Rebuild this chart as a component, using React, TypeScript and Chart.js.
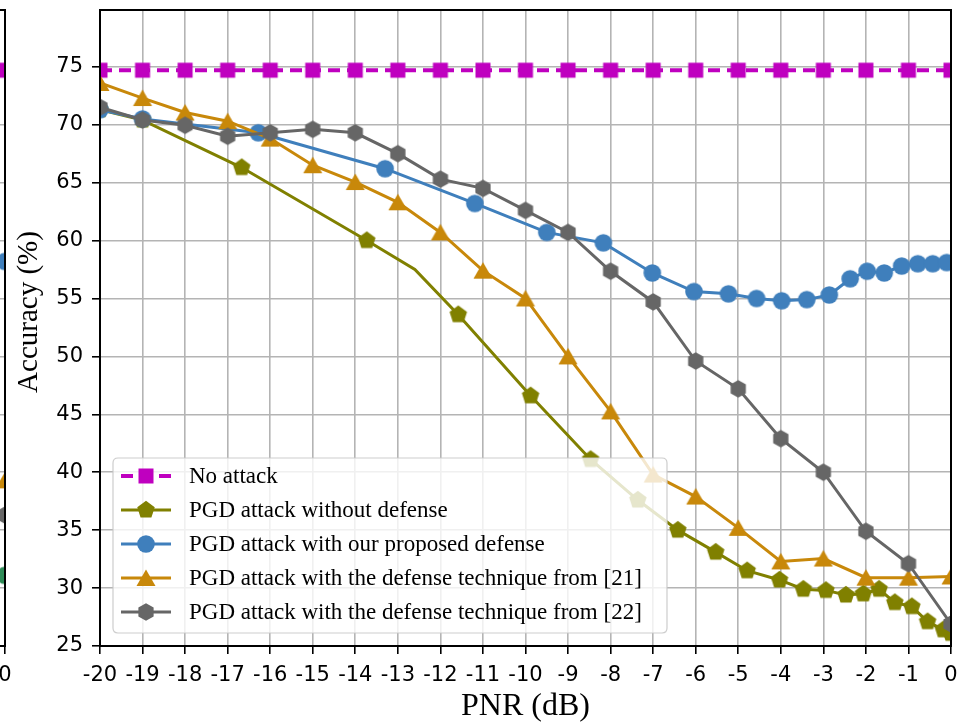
import React, { useEffect, useRef } from 'react';
import { Chart, registerables } from 'chart.js';

Chart.register(...registerables);

// ---------- data ----------
const pnrSteps = [-20, -19, -18, -17, -16, -15, -14, -13, -12, -11, -10, -9, -8, -7, -6, -5, -4, -3, -2, -1, 0];

const noAttackAcc = [74.7, 74.7, 74.7, 74.7, 74.7, 74.7, 74.7, 74.7, 74.7, 74.7, 74.7, 74.7, 74.7, 74.7, 74.7, 74.7, 74.7, 74.7, 74.7, 74.7, 74.7];

const noDefensePnr = [-20, -19, -16.67, -13.73, -12.6, -11.58, -9.88, -8.47, -7.36, -6.42, -5.53, -4.79, -4.03, -3.47, -2.94, -2.47, -2.06, -1.69, -1.32, -0.92, -0.55, -0.18, 0];
const noDefenseAcc = [71.3, 70.4, 66.3, 60.0, 57.5, 53.6, 46.6, 41.1, 37.6, 35.0, 33.1, 31.5, 30.7, 29.9, 29.8, 29.4, 29.5, 29.9, 28.75, 28.4, 27.1, 26.4, 26.1];
const noDefenseShowMarker = [1, 1, 1, 1, 0, 1, 1, 1, 1, 1, 1, 1, 1, 1, 1, 1, 1, 1, 1, 1, 1, 1, 1];

const proposedPnr = [-20, -19, -16.28, -13.3, -11.19, -9.5, -8.17, -7.02, -6.04, -5.23, -4.57, -3.98, -3.39, -2.86, -2.37, -1.97, -1.57, -1.16, -0.78, -0.43, -0.1];
const proposedAcc = [71.3, 70.5, 69.3, 66.2, 63.2, 60.7, 59.8, 57.2, 55.6, 55.4, 55.0, 54.8, 54.9, 55.3, 56.7, 57.35, 57.2, 57.8, 58.0, 58.0, 58.1];

const ref21Acc = [73.6, 72.3, 71.05, 70.3, 68.8, 66.5, 65.05, 63.3, 60.7, 57.4, 55.0, 50.0, 45.25, 39.8, 37.9, 35.2, 32.3, 32.55, 30.9, 30.9, 31.0];

const ref22Acc = [71.5, 70.4, 69.95, 69.0, 69.3, 69.6, 69.3, 67.5, 65.3, 64.5, 62.6, 60.7, 57.35, 54.7, 49.6, 47.2, 42.9, 40.0, 34.9, 32.1, 26.9];

// neighbouring subplot (only its right edge is visible)
const leftPanelPnr = [0];
const leftNoAttack = [74.7];
const leftProposed = [58.2];
const leftRef21 = [39.3];
const leftRef22 = [36.3];
const leftOther = [31.1];

const seriesLabels = [
  'No attack',
  'PGD attack without defense',
  'PGD attack with our proposed defense',
  'PGD attack with the defense technique from [21]',
  'PGD attack with the defense technique from [22]',
];

const yTickMin = 25;
const yTickMax = 79.9;

// ---------- styles ----------
const C_MAGENTA = '#bf00bf';
const C_OLIVE = '#808000';
const C_BLUE = '#3f7fbc';
const C_ORANGE = '#c8880a';
const C_GRAY = '#666666';
const C_GREEN = '#2e8b57';

function makeMarker(kind: string, color: string): HTMLCanvasElement {
  const s = 24;
  const c = document.createElement('canvas');
  c.width = s;
  c.height = s;
  const ctx = c.getContext('2d')!;
  const cx = s / 2;
  const cy = s / 2;
  ctx.fillStyle = color;
  ctx.beginPath();
  if (kind === 'square') {
    ctx.rect(cx - 7.5, cy - 7.5, 15, 15);
  } else if (kind === 'circle') {
    ctx.arc(cx, cy, 8.8, 0, Math.PI * 2);
  } else if (kind === 'triangle') {
    ctx.moveTo(cx, cy - 8.5);
    ctx.lineTo(cx + 9.5, cy + 8);
    ctx.lineTo(cx - 9.5, cy + 8);
    ctx.closePath();
  } else {
    const n = kind === 'pentagon' ? 5 : 6;
    const r = kind === 'pentagon' ? 9.2 : 8.8;
    for (let i = 0; i < n; i++) {
      const a = -Math.PI / 2 + (i * 2 * Math.PI) / n;
      const px = cx + r * Math.cos(a);
      const py = cy + r * Math.sin(a);
      if (i === 0) ctx.moveTo(px, py);
      else ctx.lineTo(px, py);
    }
    ctx.closePath();
  }
  ctx.fill();
  return c;
}

function pts(xs: number[], ys: number[]) {
  return xs.map((x, i) => ({ x, y: ys[i] }));
}

function decorPlugin(showLegend: boolean) {
  return {
    id: 'decor',
    afterDatasetsDraw(chart: any) {
      if (!showLegend) return;
      const ctx = chart.ctx as CanvasRenderingContext2D;
      ctx.save();
      const bx = 113, by = 458, bw = 554, bh = 175, r = 5;
      ctx.beginPath();
      ctx.moveTo(bx + r, by);
      ctx.lineTo(bx + bw - r, by);
      ctx.quadraticCurveTo(bx + bw, by, bx + bw, by + r);
      ctx.lineTo(bx + bw, by + bh - r);
      ctx.quadraticCurveTo(bx + bw, by + bh, bx + bw - r, by + bh);
      ctx.lineTo(bx + r, by + bh);
      ctx.quadraticCurveTo(bx, by + bh, bx, by + bh - r);
      ctx.lineTo(bx, by + r);
      ctx.quadraticCurveTo(bx, by, bx + r, by);
      ctx.closePath();
      ctx.fillStyle = 'rgba(255,255,255,0.8)';
      ctx.fill();
      ctx.strokeStyle = 'rgba(200,200,200,0.9)';
      ctx.lineWidth = 1.2;
      ctx.stroke();
      chart.data.datasets.forEach((ds: any, i: number) => {
        const yc = 476 + i * 34;
        ctx.beginPath();
        ctx.setLineDash(ds.borderDash || []);
        ctx.lineDashOffset = 0;
        ctx.lineWidth = ds.borderWidth;
        ctx.strokeStyle = ds.borderColor;
        ctx.moveTo(121, yc);
        ctx.lineTo(171, yc);
        ctx.stroke();
        ctx.setLineDash([]);
        const img = ds.pointStyle as HTMLCanvasElement;
        ctx.drawImage(img, 146 - img.width / 2, yc - img.height / 2);
        ctx.fillStyle = '#000';
        ctx.font = '23px "Liberation Serif"';
        ctx.textBaseline = 'middle';
        ctx.textAlign = 'left';
        ctx.fillText(ds.label, 189, yc + 1);
      });
      ctx.restore();
    },
    afterDraw(chart: any) {
      const ctx = chart.ctx as CanvasRenderingContext2D;
      const a = chart.chartArea;
      ctx.save();
      ctx.strokeStyle = '#000';
      ctx.lineWidth = 2;
      ctx.strokeRect(a.left, a.top, a.right - a.left, a.bottom - a.top);
      ctx.fillStyle = '#000';
      ctx.textAlign = 'center';
      ctx.textBaseline = 'middle';
      ctx.font = '32px "Liberation Serif"';
      ctx.fillText('PNR (dB)', (a.left + a.right) / 2, 707);
      ctx.translate(29, 312);
      ctx.rotate(-Math.PI / 2);
      ctx.font = '29px "Liberation Serif"';
      ctx.fillText('Accuracy (%)', 0, 0);
      ctx.restore();
    },
  };
}

function zeroPad(s: any) {
  s.paddingLeft = 0;
  s.paddingRight = 0;
  s.paddingTop = 0;
  s.paddingBottom = 0;
}

function makeConfig(datasets: any[], showLegend: boolean) {
  const tickFont = { family: '"DejaVu Sans"', size: 21 };
  return {
    type: 'line',
    data: { datasets },
    options: {
      animation: false,
      responsive: false,
      events: [],
      layout: { autoPadding: false, padding: { left: 8, right: 10, top: 10, bottom: 0 } },
      plugins: {
        legend: { display: false },
        tooltip: { enabled: false },
        title: { display: false },
      },
      scales: {
        x: {
          type: 'linear',
          min: pnrSteps[0],
          max: pnrSteps[pnrSteps.length - 1],
          afterFit: (s: any) => {
            s.height = 77;
            zeroPad(s);
          },
          ticks: {
            stepSize: 1,
            autoSkip: false,
            maxRotation: 0,
            includeBounds: false,
            padding: 9,
            color: '#000',
            font: tickFont,
          },
          grid: { color: '#b4b4b4', lineWidth: 1.6, tickLength: 8, tickColor: '#000', tickWidth: 1.6 },
          border: { display: false },
        },
        y: {
          type: 'linear',
          min: yTickMin,
          max: yTickMax,
          afterFit: (s: any) => {
            s.width = 92;
            zeroPad(s);
          },
          ticks: {
            stepSize: 5,
            includeBounds: false,
            padding: 9,
            color: '#000',
            font: tickFont,
          },
          grid: { color: '#b4b4b4', lineWidth: 1.6, tickLength: 8, tickColor: '#000', tickWidth: 1.6 },
          border: { display: false },
        },
      },
    },
    plugins: [decorPlugin(showLegend)],
  };
}

export default function App() {
  const mainRef = useRef<HTMLCanvasElement | null>(null);
  const leftRef = useRef<HTMLCanvasElement | null>(null);

  useEffect(() => {
    document.body.style.margin = '0';
    const mSquare = makeMarker('square', C_MAGENTA);
    const mPent = makeMarker('pentagon', C_OLIVE);
    const mCircle = makeMarker('circle', C_BLUE);
    const mTri = makeMarker('triangle', C_ORANGE);
    const mHex = makeMarker('hexagon', C_GRAY);
    const mGreen = makeMarker('circle', C_GREEN);

    const base = { fill: false, tension: 0, borderWidth: 3, pointRadius: 9, pointHoverRadius: 9 };

    const mainSets = [
      { ...base, label: seriesLabels[0], data: pts(pnrSteps, noAttackAcc), borderColor: C_MAGENTA, backgroundColor: C_MAGENTA, borderWidth: 4, borderDash: [12, 7], pointStyle: mSquare, order: 5 },
      { ...base, label: seriesLabels[1], data: pts(noDefensePnr, noDefenseAcc), borderColor: C_OLIVE, backgroundColor: C_OLIVE, pointStyle: mPent, pointRadius: noDefenseShowMarker.map((v) => v * 9), order: 4 },
      { ...base, label: seriesLabels[2], data: pts(proposedPnr, proposedAcc), borderColor: C_BLUE, backgroundColor: C_BLUE, pointStyle: mCircle, order: 3 },
      { ...base, label: seriesLabels[3], data: pts(pnrSteps, ref21Acc), borderColor: C_ORANGE, backgroundColor: C_ORANGE, pointStyle: mTri, order: 2 },
      { ...base, label: seriesLabels[4], data: pts(pnrSteps, ref22Acc), borderColor: C_GRAY, backgroundColor: C_GRAY, pointStyle: mHex, order: 1 },
    ];

    const leftSets = [
      { ...base, label: seriesLabels[0], data: pts(leftPanelPnr, leftNoAttack), borderColor: C_MAGENTA, pointStyle: mSquare, order: 5 },
      { ...base, label: seriesLabels[2], data: pts(leftPanelPnr, leftProposed), borderColor: C_BLUE, pointStyle: mCircle, order: 4 },
      { ...base, label: seriesLabels[3], data: pts(leftPanelPnr, leftRef21), borderColor: C_ORANGE, pointStyle: mTri, order: 3 },
      { ...base, label: seriesLabels[4], data: pts(leftPanelPnr, leftRef22), borderColor: C_GRAY, pointStyle: mHex, order: 2 },
      { ...base, label: 'other', data: pts(leftPanelPnr, leftOther), borderColor: C_GREEN, pointStyle: mGreen, order: 1 },
    ];

    const main = new Chart(mainRef.current!, makeConfig(mainSets, true) as any);
    const left = new Chart(leftRef.current!, makeConfig(leftSets, false) as any);
    return () => {
      main.destroy();
      left.destroy();
    };
  }, []);

  return (
    <div style={{ position: 'fixed', left: 0, top: 0, width: 961, height: 723, overflow: 'hidden', background: '#fff' }}>
      <canvas ref={leftRef} width={961} height={723} style={{ position: 'absolute', left: -946, top: 0 }} />
      <canvas ref={mainRef} width={961} height={723} style={{ position: 'absolute', left: 0, top: 0 }} />
    </div>
  );
}
